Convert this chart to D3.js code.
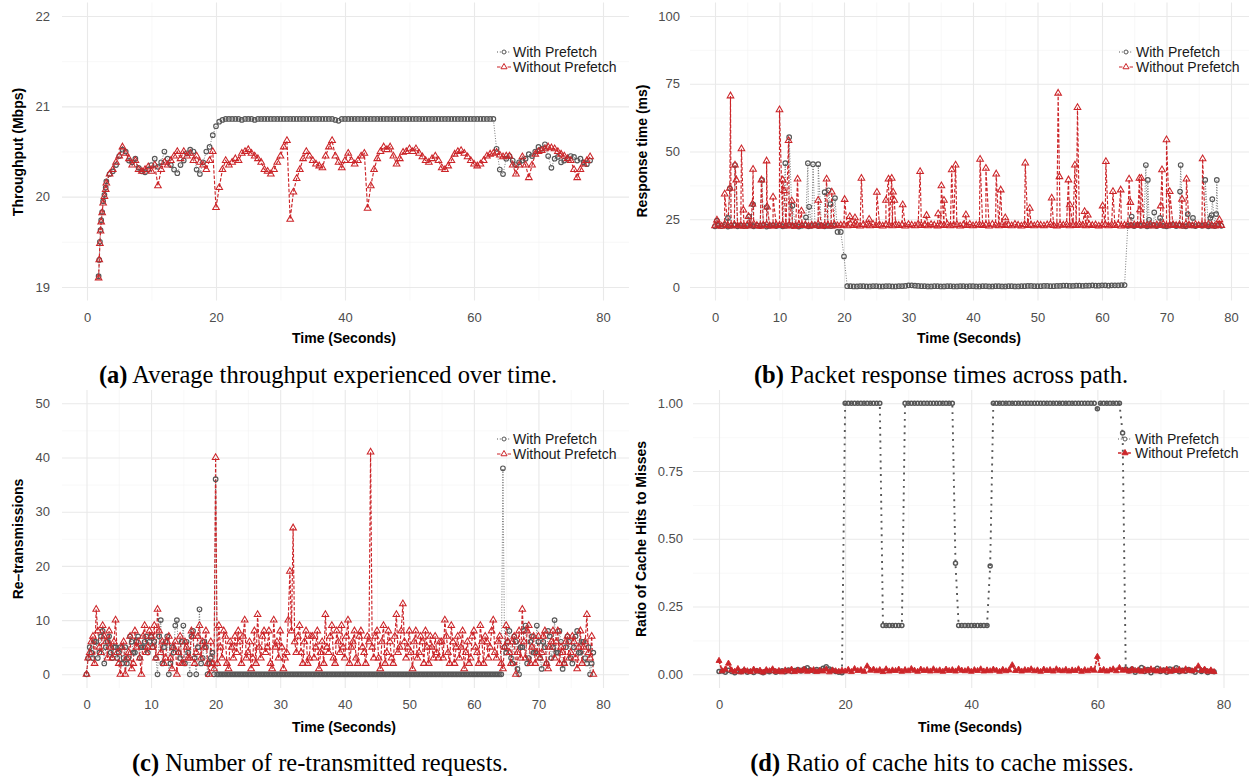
<!DOCTYPE html>
<html>
<head>
<meta charset="utf-8">
<script src="https://cdn.jsdelivr.net/npm/d3@7"></script>
<style>
  body { margin: 0; background: #fff; }
  svg { display: block; font-family: "Liberation Sans", Arial, sans-serif; }
</style>
</head>
<body>
<script>
// ---- Data ----

// sampling instants, seconds (panels b, c, d sampled every half second)
const sampleTimes = d3.range(0, 78.51, 0.5);
// extra instants in between, used for the dense re-transmission panel
const midTimes = d3.range(0.25, 78.3, 0.5);
// panel a starts later, with a dense ramp-up at the beginning
const aTime = [1.8, 1.9, 2.0, 2.1, 2.2, 2.35, 2.5, 2.7, 2.9].concat(d3.range(3, 78.01, 0.5));

// (a) Average throughput (Mbps)
const aWithout = [
  19.10, 19.30, 19.48, 19.62, 19.72, 19.82, 19.93, 20.00, 20.08,
  20.15, 20.25, 20.30, 20.38, 20.45, 20.55, 20.48, 20.42, 20.35, 20.40,
  20.30, 20.28, 20.30, 20.33, 20.28, 20.35, 20.12, 20.30, 20.38, 20.35,
  20.40, 20.45, 20.50, 20.42, 20.50, 20.45, 20.48, 20.40, 20.45, 20.38,
  20.35, 20.30, 20.40, 20.50, 19.88, 20.10, 20.30, 20.40, 20.35, 20.38,
  20.42, 20.40, 20.48, 20.50, 20.52, 20.48, 20.45, 20.42, 20.38, 20.30,
  20.28, 20.25, 20.30, 20.38, 20.45, 20.55, 20.62, 19.75, 20.05, 20.20,
  20.30, 20.42, 20.50, 20.45, 20.40, 20.36, 20.34, 20.32, 20.45, 20.55,
  20.62, 20.45, 20.38, 20.32, 20.40, 20.48, 20.40, 20.36, 20.40, 20.45,
  20.48, 19.87, 20.12, 20.30, 20.42, 20.50, 20.55, 20.52, 20.55, 20.45,
  20.36, 20.42, 20.49, 20.50, 20.53, 20.50, 20.53, 20.48, 20.44, 20.40,
  20.38, 20.42, 20.45, 20.40, 20.32, 20.30, 20.34, 20.40, 20.47, 20.50,
  20.51, 20.48, 20.44, 20.40, 20.36, 20.34, 20.36, 20.40, 20.45, 20.47,
  20.48, 20.49, 20.46, 20.44, 20.45, 20.45, 20.35, 20.25, 20.35, 20.44,
  20.35, 20.21, 20.35, 20.47, 20.50, 20.51, 20.53, 20.55, 20.54, 20.53,
  20.50, 20.47, 20.45, 20.42, 20.40, 20.30, 20.21, 20.30, 20.36, 20.40,
  20.44
];
const aWith = [
  19.12, 19.30, 19.50, 19.63, 19.74, 19.83, 19.95, 20.02, 20.10,
  20.17, 20.25, 20.28, 20.35, 20.45, 20.52, 20.50, 20.40, 20.38, 20.42,
  20.32, 20.28, 20.27, 20.30, 20.35, 20.42, 20.33, 20.38, 20.50, 20.42,
  20.35, 20.30, 20.26, 20.35, 20.40, 20.48, 20.52, 20.50, 20.30, 20.25,
  20.38, 20.50, 20.55, 20.68, 20.78, 20.83, 20.85, 20.86,
  20.86, 20.86, 20.86, 20.86, 20.85, 20.86, 20.86, 20.86, 20.85, 20.86,
  20.86, 20.86, 20.86, 20.86, 20.86, 20.86, 20.86, 20.86, 20.86, 20.86,
  20.86, 20.86, 20.86, 20.86, 20.86, 20.86, 20.86, 20.86, 20.86, 20.86,
  20.86, 20.86, 20.86, 20.85, 20.84, 20.86, 20.86, 20.86, 20.86, 20.86,
  20.86, 20.86, 20.86, 20.86, 20.86, 20.86, 20.86, 20.86, 20.86, 20.86,
  20.86, 20.86, 20.86, 20.86, 20.86, 20.86, 20.86, 20.86, 20.86, 20.86,
  20.86, 20.86, 20.86, 20.86, 20.86, 20.86, 20.86, 20.86, 20.86, 20.86,
  20.86, 20.86, 20.86, 20.86, 20.86, 20.86, 20.86, 20.86, 20.86, 20.86,
  20.86, 20.86, 20.86,
  20.53, 20.30, 20.25, 20.42, 20.45, 20.40, 20.35, 20.38, 20.40, 20.42,
  20.47, 20.45, 20.50, 20.55, 20.53, 20.58, 20.45, 20.32, 20.42, 20.44,
  20.38, 20.40, 20.42, 20.45, 20.44, 20.40, 20.42, 20.38, 20.36, 20.40
];

// (b) Packet response time (ms): baseline every 0.5 s plus individual spikes
const bWithoutBase = [
  22.6, 22.9, 22.4, 23.1, 22.7, 22.5, 23.0, 22.6, 22.8, 22.4,
  22.9, 22.5, 23.2, 22.7, 22.4, 22.8, 23.0, 22.6, 22.5, 22.9,
  22.7, 23.1, 22.5, 22.8, 22.6, 22.4, 23.0, 22.7, 22.9, 22.5,
  22.8, 22.6, 23.1, 22.4, 22.7, 22.9, 22.5, 23.0, 22.6, 22.8,
  22.9, 22.6, 23.2, 22.7, 22.9, 22.5, 23.0, 22.8, 22.6, 23.1,
  22.7, 22.9, 22.5, 23.0, 22.8, 22.6, 23.1, 22.7, 22.9, 22.5,
  23.0, 22.8, 22.6, 23.2, 22.7, 22.9, 22.6, 23.0, 22.8, 22.5,
  22.9, 22.7, 23.1, 22.6, 22.8, 23.0, 22.5, 22.9, 22.7, 23.1,
  22.6, 22.8, 23.0, 22.7, 22.9, 22.5, 23.1, 22.8, 22.6, 23.0,
  22.7, 22.9, 22.6, 23.1, 22.8, 22.5, 23.0, 22.7, 22.9, 22.6,
  23.0, 22.8, 22.6, 22.9, 23.1, 22.7, 22.5, 22.9, 22.8, 23.0,
  22.6, 22.9, 22.7, 23.1, 22.8, 22.6, 23.0, 22.7, 22.9, 22.5,
  22.8, 23.0, 22.6, 22.9, 22.7, 23.1, 22.5, 22.8, 23.0, 22.6,
  22.9, 22.7, 23.1, 22.6, 22.8, 23.0, 22.5, 22.9, 22.7, 23.2,
  22.6, 22.8, 23.0, 22.7, 22.9, 22.5, 23.1, 22.8, 22.6, 23.0,
  22.7, 22.9, 22.6, 23.1, 22.8, 22.5, 22.9, 22.7
];
const bWithBase = [
  22.4, 22.7, 22.5, 22.9, 22.3, 22.6, 22.8, 22.4, 22.7, 22.5,
  22.6, 22.8, 22.4, 22.7, 22.5, 22.9, 22.3, 22.6, 22.8, 22.5,
  22.7, 22.4, 22.6, 22.9, 22.5, 22.7, 22.3, 22.6, 22.8, 22.4,
  22.6, 22.8, 22.5, 22.7, 22.4, 22.6, 22.5, 22.7, 20.3, 20.3,
  11.3, 0.3, 0.3, 0.2, 0.2, 0.3, 0.3, 0.2, 0.2, 0.3,
  0.3, 0.2, 0.2, 0.3, 0.3, 0.2, 0.2, 0.3, 0.3, 0.4,
  0.6, 0.6, 0.5, 0.4, 0.3, 0.3, 0.2, 0.2, 0.3, 0.3,
  0.2, 0.2, 0.3, 0.3, 0.2, 0.2, 0.3, 0.3, 0.2, 0.3,
  0.3, 0.2, 0.2, 0.3, 0.3, 0.2, 0.2, 0.3, 0.3, 0.2,
  0.2, 0.3, 0.3, 0.2, 0.2, 0.3, 0.3, 0.4, 0.4, 0.3,
  0.3, 0.3, 0.4, 0.4, 0.3, 0.3, 0.4, 0.4, 0.5, 0.5,
  0.4, 0.4, 0.5, 0.5, 0.4, 0.5, 0.5, 0.6, 0.5, 0.5,
  0.6, 0.6, 0.5, 0.6, 0.6, 0.6, 0.7, 0.7, 22.6, 22.8,
  22.5, 22.9, 22.6, 22.8, 22.4, 22.7, 22.9, 22.5, 22.8, 22.6,
  22.4, 22.7, 22.9, 22.5, 22.8, 22.6, 22.4, 22.9, 22.7, 22.5,
  22.8, 22.6, 22.9, 22.4, 22.7, 22.5, 22.8, 22.6
];
const bWithoutSpikeT = [
  0.3, 1.5, 2.3, 2.4, 3.1, 3.3, 4.1, 4.4, 5.2, 5.8,
  5.9, 7.2, 8.0, 8.1, 9.0, 10.0, 10.5, 10.7, 11.4, 11.9,
  12.8, 13.4, 16.0, 17.3, 18.1, 20.1, 20.9, 21.7, 22.7, 23.9,
  25.1, 26.5, 26.9, 27.4, 27.6, 27.8, 29.1, 31.8, 32.8, 34.6,
  35.1, 35.5, 36.7, 37.3, 38.9, 41.1, 42.0, 43.6, 44.3, 45.0,
  48.1, 48.8, 52.2, 53.2, 53.4, 54.8, 55.0, 55.8, 56.2, 57.3,
  57.8, 60.1, 60.6, 61.7, 62.9, 64.2, 64.4, 65.8, 66.1, 65.9,
  69.1, 69.3, 70.0, 70.5, 72.4, 73.1, 75.6, 78.2
];
const bWithoutSpikeV = [
  24.7, 34.3, 36.4, 70.5, 45.0, 39.5, 51.0, 28.4, 26.0, 30.6,
  43.4, 39.5, 46.5, 29.5, 33.2, 65.4, 39.5, 35.6, 54.0, 31.8,
  39.8, 28.0, 32.0, 39.8, 35.0, 32.3, 26.0, 25.5, 40.1, 25.0,
  34.9, 32.0, 39.8, 40.1, 35.0, 32.0, 30.3, 42.6, 26.4, 27.0,
  37.3, 32.0, 43.2, 45.0, 26.6, 47.1, 43.8, 41.7, 35.8, 25.5,
  45.7, 29.0, 32.8, 71.5, 40.7, 39.5, 30.3, 45.0, 66.2, 27.8,
  26.5, 29.9, 46.3, 35.2, 35.8, 39.8, 31.2, 40.1, 40.1, 28.5,
  29.9, 43.2, 54.3, 35.2, 32.4, 39.8, 47.3, 24.8
];
const bWithSpikeT = [
  0.3, 2.0, 2.3, 3.1, 5.3, 5.9, 7.3, 8.0, 10.9, 11.5,
  12.0, 14.1, 14.4, 14.6, 15.2, 16.0, 17.0, 17.6, 17.9, 18.6,
  64.6, 66.8, 67.1, 67.3, 68.1, 69.0, 72.1, 72.2, 73.3, 74.1,
  76.0, 76.8, 77.0, 77.1, 77.7, 77.8
];
const bWithSpikeV = [
  24.5, 25.5, 36.4, 45.0, 26.0, 30.5, 39.5, 29.5, 45.7, 55.3,
  30.0, 25.7, 45.7, 29.6, 45.3, 45.3, 35.0, 35.7, 30.6, 32.8,
  26.0, 45.0, 39.5, 24.8, 27.5, 25.5, 35.2, 45.0, 26.9, 25.5,
  39.5, 25.5, 26.5, 32.4, 26.9, 39.5
];

// (c) Re-transmitted requests, on the half-second grid ...
const cWithout = [
  0, 4, 7, 12, 5, 9, 6, 8, 3, 10,
  2, 5, 0, 4, 1, 8, 6, 0, 9, 5,
  7, 9, 12, 4, 2, 6, 3, 5, 0, 7,
  2, 5, 3, 7, 4, 9, 6, 8, 0, 2,
  40, 9, 3, 7, 1, 5, 7, 8, 2, 10,
  4, 1, 8, 11, 3, 8, 5, 2, 10, 6,
  8, 1, 4, 19, 27, 4, 9, 2, 8, 3,
  7, 5, 1, 6, 11, 4, 9, 2, 6, 9,
  3, 10, 5, 8, 2, 8, 4, 7, 41, 3,
  8, 1, 9, 4, 6, 2, 11, 5, 13, 3,
  8, 1, 8, 4, 6, 8, 2, 5, 7, 3,
  6, 10, 4, 9, 2, 7, 5, 1, 6, 3,
  8, 4, 9, 2, 6, 5, 10, 3, 7, 1,
  9, 4, 6, 0, 8, 12, 3, 9, 5, 2,
  7, 4, 8, 1, 6, 3, 8, 5, 2, 7,
  4, 6, 1, 8, 5, 11, 3, 0
];
const cWith = [
  0, 5, 3, 6, 4, 8, 5, 7, 3, 5,
  4, 2, 5, 3, 6, 4, 7, 5, 6, 4,
  7, 6, 0, 10, 5, 7, 2, 4, 10, 3,
  9, 6, 0, 8, 0, 12, 3, 5, 2, 4,
  36, 0, 0, 0, 0, 0, 0, 0, 0, 0,
  0, 0, 0, 0, 0, 0, 0, 0, 0, 0,
  0, 0, 0, 0, 0, 0, 0, 0, 0, 0,
  0, 0, 0, 0, 0, 0, 0, 0, 0, 0,
  0, 0, 0, 0, 0, 0, 0, 0, 0, 0,
  0, 0, 0, 0, 0, 0, 0, 0, 0, 0,
  0, 0, 0, 0, 0, 0, 0, 0, 0, 0,
  0, 0, 0, 0, 0, 0, 0, 0, 0, 0,
  0, 0, 0, 0, 0, 0, 0, 0, 0, 38,
  4, 8, 2, 6, 0, 5, 9, 3, 7, 4,
  6, 1, 5, 8, 3, 10, 4, 6, 2, 7,
  3, 5, 8, 4, 6, 2, 0, 4
];
// ... and at the quarter-second instants in between
const cWithoutMid = [
  3, 6, 2, 8, 4, 7, 3, 5, 6, 4,
  0, 6, 3, 7, 2, 5, 3, 7, 4, 8,
  5, 3, 8, 6, 3, 7, 1, 6, 4, 2,
  6, 3, 8, 2, 7, 3, 5, 2, 6, 1,
  2, 5, 8, 2, 6, 3, 4, 6, 7, 3,
  6, 3, 2, 5, 7, 4, 8, 1, 5, 3,
  5, 3, 10, 8, 6, 7, 4, 6, 2, 7,
  3, 8, 4, 2, 5, 7, 3, 8, 4, 5,
  7, 2, 6, 3, 7, 5, 2, 6, 5, 7,
  3, 6, 2, 8, 3, 7, 4, 8, 6, 5,
  4, 6, 3, 7, 2, 5, 7, 3, 4, 6,
  3, 7, 2, 6, 5, 3, 8, 4, 2, 7,
  5, 2, 6, 7, 3, 8, 4, 6, 2, 5,
  6, 2, 7, 4, 3, 6, 8, 2, 7, 4,
  3, 7, 2, 5, 8, 6, 2, 4, 6, 3,
  7, 3, 5, 2, 6, 4, 7
];
const cWithMid = [
  3, 4, 6, 3, 7, 2, 6, 4, 5, 3,
  5, 3, 2, 7, 4, 6, 3, 5, 7, 6,
  5, 3, 7, 2, 6, 0, 5, 9, 4, 6,
  2, 4, 7, 3, 5, 2, 6, 0, 3, 0,
  0, 0, 0, 0, 0, 0, 0, 0, 0, 0,
  0, 0, 0, 0, 0, 0, 0, 0, 0, 0,
  0, 0, 0, 0, 0, 0, 0, 0, 0, 0,
  0, 0, 0, 0, 0, 0, 0, 0, 0, 0,
  0, 0, 0, 0, 0, 0, 0, 0, 0, 0,
  0, 0, 0, 0, 0, 0, 0, 0, 0, 0,
  0, 0, 0, 0, 0, 0, 0, 0, 0, 0,
  0, 0, 0, 0, 0, 0, 0, 0, 0, 0,
  0, 0, 0, 0, 0, 0, 0, 0, 0, 5,
  6, 3, 7, 1, 5, 8, 2, 6, 4, 9,
  3, 6, 2, 7, 5, 4, 8, 1, 5, 6,
  2, 7, 4, 6, 3, 5, 2
];

// (d) Ratio of cache hits to misses
const dWith = [
  0.010, 0.012, 0.008, 0.015, 0.010, 0.006, 0.012, 0.009, 0.014, 0.008,
  0.011, 0.007, 0.013, 0.010, 0.006, 0.012, 0.009, 0.015, 0.008, 0.011,
  0.013, 0.009, 0.016, 0.010, 0.014, 0.018, 0.012, 0.020, 0.024, 0.016,
  0.012, 0.018, 0.014, 0.022, 0.028, 0.020, 0.015, 0.010, 0.008, 0.006,
  1, 1, 1, 1, 1, 1, 1, 1, 1, 1,
  1, 1, 0.18, 0.18, 0.18, 0.18, 0.18, 0.18, 0.18, 1,
  1, 1, 1, 1, 1, 1, 1, 1, 1, 1,
  1, 1, 1, 1, 1, 0.41, 0.18, 0.18, 0.18, 0.18,
  0.18, 0.18, 0.18, 0.18, 0.18, 0.18, 0.40, 1, 1, 1,
  1, 1, 1, 1, 1, 1, 1, 1, 1, 1,
  1, 1, 1, 1, 1, 1, 1, 1, 1, 1,
  1, 1, 1, 1, 1, 1, 1, 1, 1, 1,
  0.98, 1, 1, 1, 1, 1, 1, 1, 0.89, 0.02,
  0.012, 0.020, 0.008, 0.015, 0.025, 0.010, 0.018, 0.006, 0.014, 0.022,
  0.010, 0.016, 0.008, 0.020, 0.012, 0.024, 0.009, 0.015, 0.011, 0.018,
  0.013, 0.008, 0.020, 0.010, 0.016, 0.007, 0.012, 0.009
];
const dWithout = [
  0.050, 0.012, 0.018, 0.040, 0.015, 0.010, 0.020, 0.008, 0.016, 0.012,
  0.009, 0.018, 0.011, 0.014, 0.007, 0.016, 0.012, 0.019, 0.010, 0.013,
  0.008, 0.015, 0.011, 0.018, 0.009, 0.014, 0.012, 0.017, 0.010, 0.013,
  0.016, 0.009, 0.014, 0.011, 0.018, 0.008, 0.015, 0.012, 0.010, 0.014,
  0.011, 0.017, 0.009, 0.020, 0.013, 0.016, 0.010, 0.030, 0.014, 0.018,
  0.012, 0.016, 0.009, 0.019, 0.011, 0.015, 0.013, 0.018, 0.010, 0.016,
  0.012, 0.020, 0.014, 0.010, 0.018, 0.013, 0.016, 0.011, 0.019, 0.012,
  0.015, 0.010, 0.018, 0.013, 0.016, 0.011, 0.020, 0.014, 0.012, 0.017,
  0.010, 0.016, 0.013, 0.019, 0.011, 0.015, 0.012, 0.018, 0.014, 0.010,
  0.017, 0.012, 0.015, 0.034, 0.013, 0.018, 0.011, 0.016, 0.014, 0.019,
  0.012, 0.015, 0.010, 0.018, 0.013, 0.016, 0.011, 0.019, 0.014, 0.012,
  0.017, 0.011, 0.015, 0.013, 0.019, 0.010, 0.016, 0.012, 0.018, 0.014,
  0.065, 0.013, 0.017, 0.011, 0.015, 0.019, 0.012, 0.024, 0.014, 0.016,
  0.011, 0.018, 0.013, 0.015, 0.010, 0.017, 0.012, 0.019, 0.014, 0.011,
  0.016, 0.012, 0.018, 0.010, 0.015, 0.013, 0.017, 0.011, 0.019, 0.014,
  0.012, 0.016, 0.030, 0.013, 0.018, 0.010, 0.015, 0.009
];

const seriesNames = ["With Prefetch", "Without Prefetch"];
const GREY = "#575757";
const RED = "#cc2529";

// ---- Helpers ----

// merge one or more (times, values) pairs into a time-sorted point list
function series(...parts) {
  const pts = [];
  for (let k = 0; k < parts.length; k += 2) {
    const times = parts[k], values = parts[k + 1];
    times.forEach((t, i) => { if (values[i] !== undefined) pts.push({t: t, v: values[i]}); });
  }
  return pts.sort((a, b) => a.t - b.t);
}

const svg = d3.select("body").append("svg")
  .attr("width", 1250)
  .attr("height", 777);

// Panel drawing function
function drawPanel(p) {
  const x = d3.scaleLinear().domain([0, 80]).range(p.xr);
  const y = d3.scaleLinear().domain(p.yd).range(p.yr);
  const w = p.right - p.left;
  const h = p.bottom - p.top;
  const g = svg.append("g").attr("class", "panel");

  // minor grid
  g.append("g")
    .attr("transform", `translate(0,${p.bottom})`)
    .call(d3.axisBottom(x).tickValues(p.xMinor).tickSize(-h).tickFormat(""))
    .call(a => a.select(".domain").remove())
    .call(a => a.selectAll("line").attr("stroke", "#f3f3f3").attr("stroke-width", 0.6));
  g.append("g")
    .attr("transform", `translate(${p.left},0)`)
    .call(d3.axisLeft(y).tickValues(p.yMinor).tickSize(-w).tickFormat(""))
    .call(a => a.select(".domain").remove())
    .call(a => a.selectAll("line").attr("stroke", "#f3f3f3").attr("stroke-width", 0.6));

  // major grid + tick labels
  g.append("g")
    .attr("transform", `translate(0,${p.bottom})`)
    .call(d3.axisBottom(x).tickValues(p.xMajor).tickSize(-h).tickPadding(12))
    .call(a => a.select(".domain").remove())
    .call(a => a.selectAll("line").attr("stroke", "#e9e9e9").attr("stroke-width", 1.1))
    .call(a => a.selectAll("text").attr("fill", "#4d4d4d").attr("font-size", 13)
      .attr("font-family", "Liberation Sans, Arial, sans-serif"));
  g.append("g")
    .attr("transform", `translate(${p.left},0)`)
    .call(d3.axisLeft(y).tickValues(p.yMajor).tickSize(-w).tickPadding(p.yPad).tickFormat(p.yFmt))
    .call(a => a.select(".domain").remove())
    .call(a => a.selectAll("line").attr("stroke", "#e9e9e9").attr("stroke-width", 1.1))
    .call(a => a.selectAll("text").attr("fill", "#4d4d4d").attr("font-size", 13)
      .attr("font-family", "Liberation Sans, Arial, sans-serif"));

  // axis titles
  g.append("text")
    .attr("x", p.xTitle[0]).attr("y", p.xTitle[1])
    .attr("text-anchor", "middle").attr("dominant-baseline", "central")
    .attr("font-size", 14).attr("font-weight", "bold").attr("fill", "#000")
    .text("Time (Seconds)");
  g.append("text")
    .attr("transform", `translate(${p.yTitle[0]},${p.yTitle[1]}) rotate(-90)`)
    .attr("text-anchor", "middle").attr("dominant-baseline", "central")
    .attr("font-size", 14).attr("font-weight", "bold").attr("fill", "#000")
    .text(p.yLabel);

  const st = p.style;
  const line = d3.line().x(d => x(d.t)).y(d => y(d.v));

  // lines
  g.append("path").datum(p.withData)
    .attr("d", line).attr("fill", "none")
    .attr("stroke", GREY).attr("stroke-width", st.greyLineW)
    .attr("stroke-dasharray", st.greyDash);
  g.append("path").datum(p.withoutData)
    .attr("d", line).attr("fill", "none")
    .attr("stroke", RED).attr("stroke-width", st.redLineW)
    .attr("stroke-dasharray", st.redDash);

  // points
  g.append("g").selectAll("circle").data(p.withData).join("circle")
    .attr("cx", d => x(d.t)).attr("cy", d => y(d.v))
    .attr("r", st.circleR)
    .attr("fill", "none").attr("stroke", GREY).attr("stroke-width", st.circleW);
  const tri = d3.symbol(d3.symbolTriangle, st.triSize);
  g.append("g").selectAll("path").data(p.withoutData).join("path")
    .attr("transform", d => `translate(${x(d.t)},${y(d.v)})`)
    .attr("d", tri)
    .attr("fill", st.triFill).attr("stroke", RED).attr("stroke-width", st.triW);

  // legend
  const lg = g.append("g").attr("class", "legend");
  seriesNames.forEach((name, i) => {
    const ly = p.legend.y[i];
    const grey = i === 0;
    lg.append("line")
      .attr("x1", p.legend.x - 7).attr("x2", p.legend.x + 7)
      .attr("y1", ly).attr("y2", ly)
      .attr("stroke", grey ? GREY : RED)
      .attr("stroke-width", grey ? 1 : st.redLineW)
      .attr("stroke-dasharray", grey ? "1,1.8" : st.redDash);
    if (grey) {
      lg.append("circle").attr("cx", p.legend.x).attr("cy", ly).attr("r", 2)
        .attr("fill", "#fff").attr("stroke", GREY).attr("stroke-width", 1);
    } else {
      lg.append("path").attr("transform", `translate(${p.legend.x},${ly})`)
        .attr("d", d3.symbol(d3.symbolTriangle, 16))
        .attr("fill", st.triFill === "none" ? "#fff" : st.triFill)
        .attr("stroke", RED).attr("stroke-width", 1);
    }
    lg.append("text")
      .attr("x", p.legend.tx).attr("y", ly)
      .attr("dominant-baseline", "central")
      .attr("font-size", 14).attr("fill", "#1a1a1a")
      .text(name);
  });
}

// caption under a panel
function caption(cx, baseline, tag, text) {
  const t = svg.append("text")
    .attr("x", cx).attr("y", baseline)
    .attr("text-anchor", "middle")
    .attr("font-family", "Liberation Serif, 'Times New Roman', serif")
    .attr("font-size", 24.5).attr("fill", "#000");
  t.append("tspan").attr("font-weight", "bold").text(tag);
  t.append("tspan").text(" " + text);
}

const styleOpen = {
  greyLineW: 0.8, greyDash: "1,1.6", redLineW: 1.15, redDash: "3.5,1.8",
  circleR: 2.3, circleW: 1.15, triSize: 19, triW: 1.05, triFill: "none"
};
const styleRatio = {
  greyLineW: 1.9, greyDash: "1.9,4.8", redLineW: 1.7, redDash: "3.5,1.2",
  circleR: 2.0, circleW: 1.5, triSize: 15, triW: 0.9, triFill: RED
};

// (a) throughput
drawPanel({
  left: 62, right: 629, top: 2.5, bottom: 300.5,
  xr: [87, 603], yd: [19, 22], yr: [287, 16],
  xMajor: [0, 20, 40, 60, 80], xMinor: [10, 30, 50, 70],
  yMajor: [19, 20, 21, 22], yMinor: [19.5, 20.5, 21.5],
  yPad: 12, yFmt: d3.format("d"),
  xTitle: [344, 338], yTitle: [18, 152], yLabel: "Throughput (Mbps)",
  legend: {x: 504, tx: 513, y: [52, 67]},
  style: styleOpen,
  withData: series(aTime, aWith),
  withoutData: series(aTime, aWithout)
});

// (b) response time
drawPanel({
  left: 690, right: 1249, top: 2.5, bottom: 300.5,
  xr: [715, 1231], yd: [0, 100], yr: [287, 16],
  xMajor: [0, 10, 20, 30, 40, 50, 60, 70, 80], xMinor: [5, 15, 25, 35, 45, 55, 65, 75],
  yMajor: [0, 25, 50, 75, 100], yMinor: [12.5, 37.5, 62.5, 87.5],
  yPad: 10, yFmt: d3.format("d"),
  xTitle: [969, 338], yTitle: [642, 151], yLabel: "Response time (ms)",
  legend: {x: 1126, tx: 1136, y: [52, 67]},
  style: styleOpen,
  withData: series(sampleTimes, bWithBase, bWithSpikeT, bWithSpikeV),
  withoutData: series(sampleTimes, bWithoutBase, bWithoutSpikeT, bWithoutSpikeV)
});

// (c) re-transmissions
drawPanel({
  left: 62, right: 629, top: 390, bottom: 688,
  xr: [86.5, 603], yd: [0, 50], yr: [674.3, 403.3],
  xMajor: [0, 10, 20, 30, 40, 50, 60, 70, 80], xMinor: [5, 15, 25, 35, 45, 55, 65, 75],
  yMajor: [0, 10, 20, 30, 40, 50], yMinor: [5, 15, 25, 35, 45],
  yPad: 12, yFmt: d3.format("d"),
  xTitle: [344, 727], yTitle: [18, 539], yLabel: "Re\u2013transmissions",
  legend: {x: 504, tx: 513, y: [439, 454]},
  style: styleOpen,
  withData: series(sampleTimes, cWith, midTimes, cWithMid),
  withoutData: series(sampleTimes, cWithout, midTimes, cWithoutMid)
});

// (d) cache hit ratio
drawPanel({
  left: 693, right: 1249, top: 390, bottom: 688,
  xr: [719, 1223.5], yd: [0, 1], yr: [674.3, 403.3],
  xMajor: [0, 20, 40, 60, 80], xMinor: [10, 30, 50, 70],
  yMajor: [0, 0.25, 0.5, 0.75, 1], yMinor: [0.125, 0.375, 0.625, 0.875],
  yPad: 10, yFmt: d3.format(".2f"),
  xTitle: [970, 727], yTitle: [641, 539], yLabel: "Ratio of Cache Hits to Misses",
  legend: {x: 1125, tx: 1135, y: [439, 453]},
  style: styleRatio,
  withData: series(sampleTimes, dWith),
  withoutData: series(sampleTimes, dWithout)
});

caption(328, 383, "(a)", "Average throughput experienced over time.");
caption(941, 383, "(b)", "Packet response times across path.");
caption(320, 771, "(c)", "Number of re-transmitted requests.");
caption(942, 771, "(d)", "Ratio of cache hits to cache misses.");
</script>
</body>
</html>
